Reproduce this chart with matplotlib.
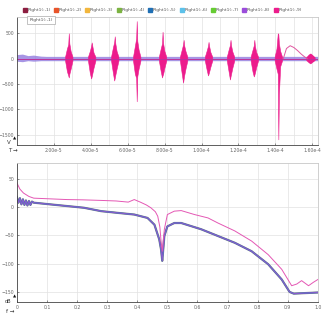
import numpy as np
import matplotlib.pyplot as plt
from matplotlib.lines import Line2D

# ---- top panel: time signal (V vs T) ----
series_names = ['Right1(:,1)', 'Right1(:,2)', 'Right1(:,3)', 'Right1(:,4)', 'Right1(:,5)',
                'Right1(:,6)', 'Right1(:,7)', 'Right1(:,8)', 'Right1(:,9)']
series_colors = ['#8c1d40', '#e8542a', '#f2b63c', '#7cb342', '#1f6fb4',
                 '#5cc1ea', '#66cc33', '#9b4ddb', '#ec1c8c']

burst_t = [2.81e-5, 4.05e-5, 5.30e-5, 6.49e-5, 7.89e-5, 9.03e-5, 1.038e-4, 1.157e-4, 1.286e-4, 1.416e-4]
burst_offsets = [-2.0e-6, -1.0e-6, -0.3e-6, 0.0, 0.3e-6, 1.0e-6, 2.0e-6]
burst_hi = [[40, 200, 280, 500, 300, 150, 40],
            [40, 150, 250, 320, 260, 120, 40],
            [40, 220, 330, 440, 300, 150, 40],
            [40, 250, 400, 740, 350, 180, 40],
            [40, 200, 300, 530, 300, 150, 40],
            [40, 180, 280, 370, 260, 150, 40],
            [40, 160, 250, 330, 250, 130, 40],
            [40, 180, 270, 370, 260, 140, 40],
            [40, 170, 260, 370, 250, 130, 40],
            [40, 200, 500, 480, 300, 150, 40]]
burst_lo = [[-40, -250, -330, -370, -300, -200, -40],
            [-40, -280, -390, -350, -300, -180, -40],
            [-40, -280, -430, -380, -320, -200, -40],
            [-40, -300, -380, -840, -350, -200, -40],
            [-40, -250, -370, -330, -300, -180, -40],
            [-40, -300, -470, -400, -330, -200, -40],
            [-40, -220, -330, -300, -260, -160, -40],
            [-40, -260, -410, -350, -300, -180, -40],
            [-40, -250, -350, -320, -280, -170, -40],
            [-40, -200, -300, -1590, -700, -150, -40]]

hump_t = [1.443e-4, 1.46e-4, 1.48e-4, 1.50e-4, 1.52e-4, 1.54e-4, 1.56e-4, 1.573e-4]
hump_v = [0, 200, 255, 220, 160, 90, 30, 0]

tail_t = [1.565e-4, 1.58e-4, 1.59e-4, 1.60e-4, 1.615e-4]
tail_hi = [30, 90, 110, 80, 30]
tail_lo = [-30, -80, -100, -70, -30]

base_t = [0, 3e-6, 6e-6, 9e-6, 1.3e-5, 1.6e-5, 1.63e-4]
base_hi = [80, 90, 60, 70, 50, 45, 45]
base_lo = [-50, -60, -40, -50, -40, -40, -40]

t_ticks = [2e-5, 4e-5, 6e-5, 8e-5, 1e-4, 1.2e-4, 1.4e-4, 1.6e-4]
t_labels = ['2.00e-5', '4.00e-5', '6.00e-5', '8.00e-5', '1.00e-4', '1.20e-4', '1.40e-4', '1.60e-4']
v_ticks = [500, 0, -500, -1000, -1500]

# ---- bottom panel: spectrum (dB vs f) ----
pink_f = [0, 0.01, 0.022, 0.04, 0.056, 0.1, 0.167, 0.22, 0.28, 0.33, 0.37, 0.39, 0.41, 0.43,
          0.445, 0.46, 0.468, 0.475, 0.479, 0.483, 0.486, 0.49, 0.5, 0.523, 0.546, 0.59, 0.635,
          0.668, 0.724, 0.78, 0.835, 0.88, 0.913, 0.93, 0.946, 0.969, 0.985, 1.0]
pink_db = [43, 32, 25, 19, 16, 15, 13.5, 13, 12, 11, 9, 13.5, 9, 4, -1, -8, -16, -35, -60, -78,
           -60, -39, -13, -7, -6, -13, -19, -28, -42, -60, -84, -110, -139, -136, -130, -139,
           -133, -128]
oth_f = [0, 0.005, 0.01, 0.015, 0.02, 0.025, 0.03, 0.035, 0.04, 0.045, 0.05, 0.056, 0.111,
         0.167, 0.223, 0.28, 0.334, 0.39, 0.434, 0.457, 0.473, 0.479, 0.483, 0.487, 0.49, 0.5,
         0.523, 0.546, 0.612, 0.668, 0.724, 0.78, 0.835, 0.88, 0.906, 0.92, 0.96, 1.0]
oth_db = [18, 8, 16, 5, 14, 4, 12, 3, 11, 4, 10, 8, 5, 2, -1, -7, -10, -13, -19, -31, -57, -75,
          -95, -70, -51, -34, -28, -28, -39, -51, -63, -78, -101, -128, -150, -153, -152, -151]
f_ticks = [0, 0.1, 0.2, 0.3, 0.4, 0.5, 0.6, 0.7, 0.8, 0.9, 1.0]
f_labels = ['0', '0.1', '0.2', '0.3', '0.4', '0.5', '0.6', '0.7', '0.8', '0.9', '1.0']
db_ticks = [50, 0, -50, -100, -150]

fig = plt.figure(figsize=(3.25, 3.18), dpi=100)
ax1 = fig.add_axes([0.052, 0.544, 0.926, 0.4025])
ax2 = fig.add_axes([0.052, 0.050, 0.926, 0.437])


def style(ax):
    ax.grid(True, which='both', color='#e2e2e2', lw=0.5)
    ax.set_axisbelow(True)
    for s in ['top', 'right']:
        ax.spines[s].set_color('#c8c8c8')
    for s in ['left', 'bottom']:
        ax.spines[s].set_color('#444444')
    for s in ax.spines.values():
        s.set_linewidth(0.6)
    ax.tick_params(labelsize=3.3, labelcolor='#666666', length=1.5, width=0.4,
                   direction='in', color='#444444', pad=2)
    ax.tick_params(which='minor', length=0)


# top panel
style(ax1)
ax1.fill_between(base_t, base_lo, base_hi, color='#8a72dc', lw=0, alpha=0.75)
ax1.plot(base_t, [0] * len(base_t), color='#3b6fc0', lw=0.6)
ax1.plot([0, 1.63e-4], [0, 0], color=series_colors[8], lw=0.5)
for c, hi, lo in zip(burst_t, burst_hi, burst_lo):
    tt = [c + o for o in burst_offsets]
    ax1.fill_between(tt, lo, hi, color=series_colors[8], lw=0.4, edgecolor=series_colors[8])
ax1.plot(hump_t, hump_v, color='#e0559f', lw=0.7)
ax1.fill_between(tail_t, tail_lo, tail_hi, color=series_colors[8], lw=0)
ax1.set_xlim(0, 1.63e-4)
ax1.set_ylim(-1700, 820)
ax1.set_xticks(t_ticks)
ax1.set_xticklabels(t_labels)
ax1.set_xticks(np.arange(1e-5, 1.63e-4, 2e-5), minor=True)
ax1.set_yticks(v_ticks)

# bottom panel
style(ax2)
ax2.plot(oth_f, oth_db, color='#8a8a8a', lw=1.6)
ax2.plot(oth_f, oth_db, color='#3b6fb6', lw=1.1)
ax2.plot(oth_f, oth_db, color='#8e5bd0', lw=0.7)
ax2.plot(pink_f, pink_db, color='#e457b4', lw=0.7)
ax2.set_xlim(0, 1.0)
ax2.set_ylim(-168, 78)
ax2.set_xticks(f_ticks)
ax2.set_xticklabels(f_labels)
ax2.set_yticks(db_ticks)

# legend across the top
handles = [Line2D([], [], ls='', marker='s', ms=2.2, color=c) for c in series_colors]
fig.legend(handles, series_names, loc='center', bbox_to_anchor=(0.5, 0.968), ncol=9,
           fontsize=3.2, frameon=False, handlelength=0.6, handletextpad=0.3,
           columnspacing=0.9, labelcolor='#555555')

# hover label box
fig.text(0.127, 0.937, 'Right1(:,1)', fontsize=3.2, color='#555555', ha='center', va='center',
         bbox=dict(boxstyle='square,pad=0.5', fc='white', ec='#aaaaaa', lw=0.5))

# axis corner labels
fig.text(0.028, 0.553, 'V', fontsize=4, color='#333333', ha='center', va='center')
fig.text(0.046, 0.566, '\u25b2', fontsize=3, color='#111111', ha='center', va='center')
fig.text(0.024, 0.528, 'T \u2192', fontsize=4, color='#333333', ha='left', va='center')
fig.text(0.026, 0.052, 'dB', fontsize=3.6, color='#333333', ha='center', va='center')
fig.text(0.046, 0.068, '\u25b2', fontsize=3, color='#111111', ha='center', va='center')
fig.text(0.018, 0.020, 'f \u2192', fontsize=4, color='#333333', ha='left', va='center')

fig.savefig('out.png', dpi=100)
